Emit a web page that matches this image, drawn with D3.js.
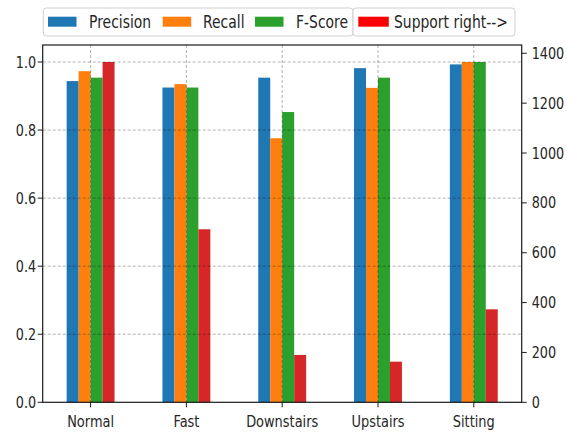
<!DOCTYPE html>
<html><head><meta charset="utf-8">
<script src="https://cdn.jsdelivr.net/npm/d3@7"></script>
<style>body{margin:0;background:#fff}svg{display:block}</style>
</head><body><svg id="c" width="567" height="432"></svg>
<script>
const categories = ["Normal", "Fast", "Downstairs", "Upstairs", "Sitting"];
const precision = [0.944, 0.925, 0.954, 0.982, 0.993];
const recall    = [0.973, 0.935, 0.776, 0.924, 1.000];
const fscore    = [0.954, 0.925, 0.853, 0.954, 1.000];
const support   = [1365, 694, 190, 163, 373];
const leftTicks  = [0.0, 0.2, 0.4, 0.6, 0.8, 1.0];
const rightTicks = [0, 200, 400, 600, 800, 1000, 1200, 1400];
const seriesNames = ["Precision", "Recall", "F-Score"];
const supportName = "Support right-->";

const colors = ["#1f77b4", "#ff7f0e", "#2ca02c", "#d62728"];
const svg = d3.select("#c");
const X0 = 42.7, X1 = 521.7, Y0 = 45, Y1 = 402.3;
const FONT = "DejaVu Sans, sans-serif";
const TXT = "#262626";

const x = d3.scaleLinear().domain([-0.5, categories.length - 0.5]).range([X0, X1]);
const yL = d3.scaleLinear().domain([0, 1.05]).range([Y1, Y0]);
const yR = d3.scaleLinear().domain([0, d3.max(support) * 1.05]).range([Y1, Y0]);
const unit = x(1) - x(0);
const bw = unit * 0.125;

function txt(g, tx, ty, s, size, sx, anchor) {
  g.append("text").attr("transform", `translate(${tx},${ty}) scale(${sx},1)`)
    .attr("text-anchor", anchor || "start").attr("font-family", FONT)
    .attr("font-size", size).attr("fill", TXT).text(s);
}

// bars
const allSeries = [
  {vals: precision, scale: yL}, {vals: recall, scale: yL},
  {vals: fscore, scale: yL}, {vals: support, scale: yR}
];
allSeries.forEach((s, si) => {
  svg.append("g").selectAll("rect").data(s.vals).join("rect")
    .attr("x", (d, i) => x(i) + (si - 2) * bw)
    .attr("width", bw)
    .attr("y", d => s.scale(d))
    .attr("height", d => Y1 - s.scale(d))
    .attr("fill", colors[si]);
});

// grid (on top)
const grid = svg.append("g").attr("stroke", "rgba(0,0,0,0.3)").attr("stroke-width", 1).attr("stroke-dasharray", "3,2");
grid.selectAll(".h").data(leftTicks.filter(t => t > 0)).join("line")
  .attr("x1", X0).attr("x2", X1).attr("y1", d => yL(d)).attr("y2", d => yL(d));
grid.selectAll(".v").data(categories).join("line")
  .attr("x1", (d, i) => x(i)).attr("x2", (d, i) => x(i)).attr("y1", Y0).attr("y2", Y1);

// frame
svg.append("rect").attr("x", X0).attr("y", Y0).attr("width", X1 - X0).attr("height", Y1 - Y0)
  .attr("fill", "none").attr("stroke", "#1a1a1a").attr("stroke-width", 1.2);

// ticks
const tk = svg.append("g").attr("stroke", "#1a1a1a").attr("stroke-width", 1);
leftTicks.forEach(t => {
  tk.append("line").attr("x1", X0 - 5).attr("x2", X0).attr("y1", yL(t)).attr("y2", yL(t));
  txt(svg, X0 - 6.5, yL(t) + 5.5, d3.format(".1f")(t), 16, 0.8, "end");
});
rightTicks.forEach(t => {
  tk.append("line").attr("x1", X1).attr("x2", X1 + 5).attr("y1", yR(t)).attr("y2", yR(t));
  txt(svg, X1 + 10, yR(t) + 5.5, String(t), 16, 0.8, "start");
});
categories.forEach((c, i) => {
  tk.append("line").attr("x1", x(i)).attr("x2", x(i)).attr("y1", Y1).attr("y2", Y1 + 5);
  txt(svg, x(i), 427, c, 16, 0.81, "middle");
});

// legends
const lg = svg.append("g");
function box(x0, x1) {
  lg.append("rect").attr("x", x0).attr("y", 8).attr("width", x1 - x0).attr("height", 28)
    .attr("rx", 3).attr("fill", "#fff").attr("fill-opacity", 0.8).attr("stroke", "#d0d0d0").attr("stroke-width", 1);
}
box(43.3, 353);
box(353, 515);
const patchX = [48, 162.7, 255];
const textX = [89, 203, 296];
seriesNames.forEach((n, i) => {
  lg.append("rect").attr("x", patchX[i]).attr("y", 16.7).attr("width", 28.5).attr("height", 10).attr("fill", colors[i]);
  txt(lg, textX[i], 28.3, n, 17, 0.82, "start");
});
lg.append("rect").attr("x", 358.3).attr("y", 16.7).attr("width", 30.5).attr("height", 10).attr("fill", "#ff0000");
txt(lg, 394, 28.3, supportName, 17, 0.82, "start");
</script></body></html>
